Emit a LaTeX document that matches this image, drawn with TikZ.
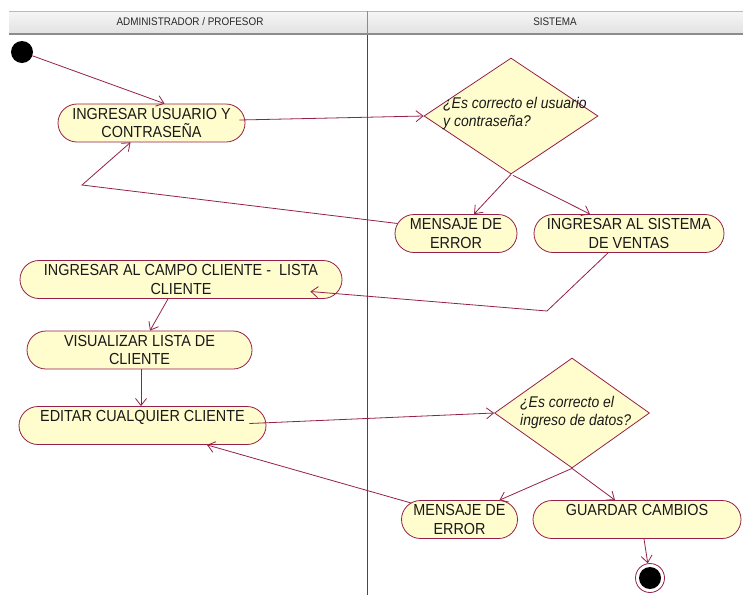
\documentclass[tikz,border=0pt]{standalone}
\usepackage{fontspec}
\setmainfont{Liberation Sans}
\newfontfamily\actfont[FakeStretch=0.9]{Liberation Sans}
\usetikzlibrary{arrows.meta,shapes.misc,shapes.geometric,calc}
\definecolor{umlline}{RGB}{150,32,72}
\definecolor{umlfill}{RGB}{255,252,206}
\definecolor{hdrtop}{RGB}{246,246,246}
\definecolor{hdrbot}{RGB}{226,226,226}
\definecolor{hdrline}{RGB}{140,140,140}
\definecolor{hdrtext}{RGB}{40,40,40}
\begin{document}
\begin{tikzpicture}[x=1pt,y=-1pt,
  act/.style={rounded rectangle, draw=umlline, fill=umlfill, line width=0.8pt,
    font=\actfont\fontsize{16}{18.3}\selectfont, text=black!90, align=center,
    inner sep=0pt, minimum height=38pt},
  decision/.style={diamond, draw=umlline, fill=umlfill, line width=0.8pt,
    inner sep=0pt, minimum width=#1},
  dtext/.style={font=\actfont\itshape\fontsize{15.5}{18}\selectfont,
    text=black!90, align=left, inner sep=0pt, anchor=west},
  flow/.style={draw=umlline, line width=0.8pt,
    -{Straight Barb[length=7pt,width=11pt]}},
  lanehdr/.style={font=\actfont\fontsize{11}{12}\selectfont, text=hdrtext}
]
\useasboundingbox (0,0) rectangle (743,595);
\fill[white] (0,0) rectangle (743,595);

% swimlane headers
\shade[top color=hdrtop, bottom color=hdrbot] (9,11) rectangle (743,33);
\draw[hdrline!60, line width=0.6pt] (9,11) -- (743,11);
\draw[hdrline, line width=0.8pt] (367,11) -- (367,33);
\draw[hdrline, line width=2.8pt] (9,34) -- (743,34);
\node[lanehdr] (hadm) at (190,21.5) {ADMINISTRADOR / PROFESOR};
\node[lanehdr] (hsys) at (555,21.5) {SISTEMA};

% lane separator
\draw[umlline, line width=0.8pt] (367,35.4) -- (367,595);

% initial and final states
\node[circle, fill=black, minimum size=22pt, inner sep=0pt] (start) at (22,52) {};
\node[circle, draw=umlline, fill=white, line width=0.8pt, minimum size=29pt, inner sep=0pt] (end) at (650,578) {};
\node[circle, fill=black, minimum size=22pt, inner sep=0pt] (endin) at (650,578) {};

% activities
\node[act, minimum width=187pt] (n1) at (151.5,123) {INGRESAR USUARIO Y\\CONTRASEÑA};
\node[act, minimum width=122pt] (me1) at (456,233.5) {MENSAJE DE\\ERROR};
\node[act, minimum width=190pt] (isv) at (629,233.5) {INGRESAR AL SISTEMA\\DE VENTAS};
\node[act, minimum width=322pt] (camp) at (181,279.5) {INGRESAR AL CAMPO CLIENTE -\ \ LISTA\\CLIENTE};
\node[act, minimum width=225pt] (vis) at (139.5,350) {VISUALIZAR LISTA DE\\CLIENTE};
\node[act, minimum width=247pt] (edit) at (142.5,425.5) {EDITAR CUALQUIER CLIENTE\\\mbox{}};
\node[act, minimum width=116pt] (me2) at (459.5,519.5) {MENSAJE DE\\ERROR};
\node[act, minimum width=208pt] (guard) at (637,519.5) {GUARDAR CAMBIOS\\\mbox{}};

% decisions
\node[decision=174pt, minimum height=116pt] (d1) at (511,116) {};
\node[dtext] (d1t) at (443,113) {¿Es correcto el usuario\\y contraseña?};
\node[decision=155pt, minimum height=110pt] (d2) at (572,413) {};
\node[dtext] (d2t) at (520,412) {¿Es correcto el\\ingreso de datos?};

% control flows
\draw[flow] (start) -- ($(n1.north)+(13,0)$);
\draw[flow] ($(n1.east)+(-6,-3)$) -- (d1.west);
\draw[flow] (d1.south) -- ($(me1.north)+(18,0)$);
\draw[flow] ($(d1.south)+(2,1)$) -- ($(isv.north)+(-39,0)$);
\coordinate (c1) at (82,185);
\draw[flow] ($(me1.west)+(3,-10)$) -- (c1) -- ($(n1.south)+(-21,0)$);
\coordinate (c2) at (547,311);
\draw[flow] ($(isv.south)+(-21,0)$) -- (c2) -- ($(camp.east)+(-32,12)$);
\draw[flow] ($(camp.south)+(-13,0)$) -- ($(vis.north)+(10.5,0)$);
\draw[flow] ($(vis.south)+(1.5,0)$) -- ($(edit.north)+(-1.5,0)$);
\draw[flow] ($(edit.east)+(-17,-2)$) -- (d2.west);
\draw[flow] (d2.south) -- ($(me2.north)+(40,0)$);
\draw[flow] (d2.south) -- ($(guard.north)+(-22,0)$);
\draw[flow] ($(me2.north)+(-48,3)$) -- ($(edit.south)+(64.5,0)$);
\draw[flow] ($(guard.south)+(7,0)$) -- (end);
\end{tikzpicture}
\end{document}
